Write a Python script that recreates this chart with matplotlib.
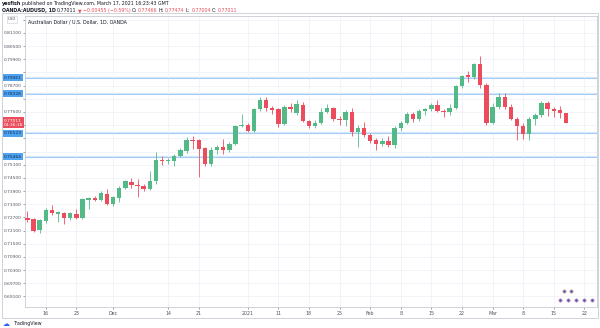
import numpy as np
import matplotlib
matplotlib.use('Agg')
import matplotlib.pyplot as plt
import matplotlib.transforms as mtrans
from matplotlib.patches import Rectangle

# daily OANDA:AUDUSD, Nov 11 2020 .. Mar 17 2021
opens = [0.7268, 0.7262, 0.7211, 0.7253, 0.7306, 0.7287, 0.7291, 0.7266, 0.7286, 0.7269,
         0.7351, 0.7360, 0.7351, 0.7378, 0.7332, 0.7359, 0.7405, 0.7433, 0.7419, 0.7412,
         0.7399, 0.7435, 0.7533, 0.7525, 0.7528, 0.7551, 0.7572, 0.7624, 0.7621, 0.7584,
         0.7515, 0.7576, 0.7589, 0.7579, 0.7606, 0.7686, 0.7693, 0.7664, 0.7762, 0.7804,
         0.7769, 0.7762, 0.7694, 0.7773, 0.7745, 0.7784, 0.7707, 0.7684, 0.7702, 0.7752,
         0.7767, 0.7719, 0.7712, 0.7751, 0.7659, 0.7675, 0.7644, 0.7621, 0.7603, 0.7616,
         0.7598, 0.7677, 0.7702, 0.7740, 0.7717, 0.7755, 0.7763, 0.7781, 0.7755, 0.7749,
         0.7769, 0.7870, 0.7918, 0.7911, 0.7967, 0.7873, 0.7702, 0.7774, 0.7819, 0.7774,
         0.7720, 0.7687, 0.7648, 0.7717, 0.7735, 0.7789, 0.7764, 0.7760, 0.77466]
highs = [0.7300, 0.7268, 0.7262, 0.7315, 0.7326, 0.7297, 0.7295, 0.7295, 0.7309, 0.7358,
         0.7364, 0.7368, 0.7388, 0.7399, 0.7368, 0.7411, 0.7440, 0.7450, 0.7445, 0.7420,
         0.7481, 0.7568, 0.7548, 0.7540, 0.7560, 0.7585, 0.7636, 0.7640, 0.7626, 0.7592,
         0.7590, 0.7598, 0.7625, 0.7615, 0.7690, 0.7743, 0.7700, 0.7770, 0.7820, 0.7818,
         0.7775, 0.7768, 0.7780, 0.7790, 0.7805, 0.7795, 0.7715, 0.7712, 0.7768, 0.7786,
         0.7772, 0.7730, 0.7760, 0.7766, 0.7690, 0.7705, 0.7655, 0.7630, 0.7630, 0.7640,
         0.7685, 0.7710, 0.7748, 0.7750, 0.7765, 0.7770, 0.7790, 0.7805, 0.7762, 0.7785,
         0.7875, 0.7920, 0.7935, 0.7975, 0.8007, 0.7880, 0.7790, 0.7838, 0.7838, 0.7785,
         0.7725, 0.7700, 0.7725, 0.7745, 0.7800, 0.7802, 0.7772, 0.7775, 0.77474]
lows = [0.7248, 0.7203, 0.7200, 0.7245, 0.7280, 0.7250, 0.7238, 0.7256, 0.7262, 0.7262,
        0.7309, 0.7345, 0.7344, 0.7325, 0.7320, 0.7339, 0.7398, 0.7405, 0.7362, 0.7390,
        0.7395, 0.7420, 0.7510, 0.7512, 0.7503, 0.7545, 0.7565, 0.7580, 0.7454, 0.7505,
        0.7505, 0.7560, 0.7557, 0.7570, 0.7600, 0.7680, 0.7660, 0.7658, 0.7755, 0.7755,
        0.7740, 0.7680, 0.7690, 0.7750, 0.7735, 0.7705, 0.7675, 0.7678, 0.7695, 0.7745,
        0.7710, 0.7690, 0.7686, 0.7640, 0.7591, 0.7635, 0.7610, 0.7575, 0.7595, 0.7590,
        0.7585, 0.7665, 0.7695, 0.7705, 0.7710, 0.7735, 0.7755, 0.7750, 0.7725, 0.7738,
        0.7765, 0.7860, 0.7885, 0.7900, 0.7860, 0.7690, 0.7695, 0.7765, 0.7765, 0.7712,
        0.7621, 0.7628, 0.7621, 0.7690, 0.7725, 0.7730, 0.7728, 0.7722, 0.77004]
closes = [0.7259, 0.7210, 0.7257, 0.7306, 0.7288, 0.7293, 0.7266, 0.7288, 0.7269, 0.7352,
          0.7360, 0.7351, 0.7379, 0.7332, 0.7362, 0.7406, 0.7435, 0.7417, 0.7412, 0.7399,
          0.7435, 0.7533, 0.7525, 0.7530, 0.7551, 0.7576, 0.7621, 0.7617, 0.7582, 0.7513,
          0.7576, 0.7591, 0.7579, 0.7606, 0.7685, 0.7693, 0.7664, 0.7762, 0.7804, 0.7766,
          0.7759, 0.7694, 0.7774, 0.7762, 0.7786, 0.7707, 0.7684, 0.7702, 0.7752, 0.7767,
          0.7717, 0.7712, 0.7751, 0.7659, 0.7677, 0.7644, 0.7618, 0.7603, 0.7618, 0.7598,
          0.7677, 0.7702, 0.7740, 0.7717, 0.7755, 0.7763, 0.7781, 0.7754, 0.7749, 0.7769,
          0.7870, 0.7915, 0.7911, 0.7967, 0.7873, 0.7702, 0.7774, 0.7819, 0.7774, 0.7720,
          0.7687, 0.7648, 0.7717, 0.7735, 0.7789, 0.7762, 0.7755, 0.77466, 0.77011]

tick_pos = [3, 8, 14, 23, 28, 36, 41, 46, 51, 56, 61, 66, 71, 76, 81, 86, 91]
tick_labels = ['16', '23', 'Dec', '14', '21', '2021', '11', '18', '25', 'Feb',
               '8', '15', '22', 'Mar', '8', '15', '22']

level_values = [0.79061, 0.78328, 0.76523, 0.75464]
level_labels = ['0.79061', '0.78328', '0.76523', '0.75464']
last_price = 0.77011
countdown = '04:36:18'

up_col = '#53b987'
dn_col = '#eb4d5c'
grid_col = '#f0f3fa'
txt_col = '#50535e'

fig = plt.figure(figsize=(6, 3.28), dpi=100)
fig.patch.set_facecolor('white')
ax = fig.add_axes([25/600, 21/328, 572/600, 291/328])

o = np.array(opens); h = np.array(highs); l = np.array(lows); c = np.array(closes)
x = np.arange(len(o))
cols = np.where(c >= o, up_col, dn_col)

ax.vlines(x, l, h, colors=cols, lw=0.6, zorder=3)
body_lo = np.minimum(o, c)
body_h = np.maximum(np.abs(c - o), 0.00012)
ax.bar(x, body_h, bottom=body_lo, width=0.72, color=cols, lw=0, zorder=4)

for v in level_values:
    ax.axhline(v, color='#d3e6fb', lw=1.6, zorder=1)
    ax.axhline(v, color='#9cc7f3', lw=0.6, zorder=2)

ax.set_xlim(-0.39, 93.07)
ax.set_ylim(0.68621, 0.81870)

yt = np.arange(0.691, 0.8171, 0.006)
ax.set_yticks(yt)
# scale labels hidden where a price label or the currency box sits on top of them
covered = level_values + [last_price]
ylabs = []
for v in yt:
    if v > 0.815 or min(abs(v - p) for p in covered) < 0.0026:
        ylabs.append('')
    else:
        ylabs.append('%.5f' % v)
ax.set_yticklabels(ylabs)
ax.set_xticks(tick_pos)
ax.set_xticklabels(tick_labels)
ax.tick_params(axis='y', labelsize=3.2, colors=txt_col, length=1.5, width=0.4, pad=1)
ax.tick_params(axis='x', labelsize=3.4, colors=txt_col, length=1.5, width=0.4, pad=1.5)
ax.grid(True, color=grid_col, lw=0.6, zorder=0)
for s in ax.spines.values():
    s.set_color('#c8cbd2')
    s.set_linewidth(0.6)

# price scale labels on the left axis
tr = mtrans.blended_transform_factory(ax.transAxes, ax.transData)
for v, s in zip(level_values, level_labels):
    ax.text(-0.037, v, s, transform=tr, fontsize=3.2, color='#0d2c54', va='center', ha='left',
            bbox=dict(boxstyle='square,pad=0.3', fc='#4fa3ee', ec='none'), zorder=10, clip_on=False)
ax.text(-0.037, last_price + 0.0019, '%.5f\n%s' % (last_price, countdown), transform=tr,
        fontsize=3.2, color='white', va='top', ha='left', linespacing=1.0,
        bbox=dict(boxstyle='square,pad=0.25', fc=dn_col, ec='none'), zorder=11, clip_on=False)

ax.text(0.005, 0.978, 'Australian Dollar / U.S. Dollar, 1D, OANDA', transform=ax.transAxes,
        fontsize=3.4, color='#131722', va='center', ha='left')
ax.text(-0.03, 0.988, 'USD', transform=ax.transAxes, fontsize=2.8, color=txt_col, va='center',
        ha='left', bbox=dict(boxstyle='square,pad=0.3', fc='white', ec='#c8cbd2', lw=0.4),
        clip_on=False)

# little event markers near the time scale
ev_x = [87.6, 88.9, 87.0, 88.3, 89.6, 90.9, 92.2]
ev_y = [0.6935, 0.6935, 0.6894, 0.6894, 0.6894, 0.6894, 0.6894]
ax.scatter(ev_x[:2], ev_y[:2], s=6, c='#3d62c4', edgecolors='#f6b39a', linewidths=0.5, zorder=6)
ax.scatter(ev_x[2:], ev_y[2:], s=6, c='#3d62c4', edgecolors='#f3a0b4', linewidths=0.5, zorder=6)

# outer frame
fig.patches.append(Rectangle((2/600, 10/328), 596/600, 305/328, transform=fig.transFigure,
                             fill=False, ec='#c8cbd2', lw=0.6))

# header lines
fig.canvas.draw()
r = fig.canvas.get_renderer()

def put_line(parts, x0, y0):
    xx = x0
    for s, col, w in parts:
        t = fig.text(xx, y0, s, color=col, fontsize=3.4, fontweight=w, va='center', ha='left')
        bb = t.get_window_extent(r)
        xx = bb.x1 / 600 + 1.2 / 600

put_line([('yesfish', '#131722', 'bold'),
          ('published on TradingView.com, March 17, 2021 16:23:43 GMT', '#131722', 'normal')],
         2/600, 1 - 4/328)
put_line([('OANDA:AUDUSD, 1D', '#131722', 'bold'), ('0.77011', '#131722', 'normal'),
          ('\u25bc', dn_col, 'normal'), ('\u22120.00455 (\u22120.59%)', dn_col, 'normal'),
          ('O:', '#131722', 'normal'), ('0.77466', dn_col, 'normal'),
          ('H:', '#131722', 'normal'), ('0.77474', dn_col, 'normal'),
          ('L:', '#131722', 'normal'), ('0.77004', dn_col, 'normal'),
          ('C:', '#131722', 'normal'), ('0.77011', dn_col, 'normal')],
         2/600, 1 - 10.5/328)

fig.text(14/600, 4/328, 'TradingView', fontsize=3.4, color='#131722', va='center', ha='left')
fig.text(3/600, 4/328, '\u2601', fontsize=5, color='#2962ff', va='center', ha='left')

fig.savefig('out.png', dpi=100)
